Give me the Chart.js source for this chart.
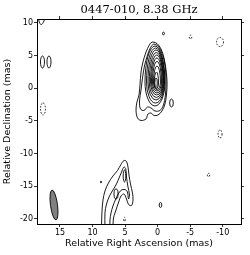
<!DOCTYPE html>
<html><head><meta charset="utf-8">
<script src="https://cdn.jsdelivr.net/npm/chart.js@4/dist/chart.umd.min.js"></script>
<style>html,body{margin:0;padding:0;background:#fff;overflow:hidden}canvas{display:block}</style>
</head><body><canvas id="c" width="250" height="255"></canvas>
<script>
// ---------- text ----------
const titleText = '0447-010, 8.38 GHz';
const xTitle = 'Relative Right Ascension (mas)';
const yTitle = 'Relative Declination (mas)';
// ---------- axes ----------
const raTicks = [15, 10, 5, 0, -5, -10];
const decTicks = [10, 5, 0, -5, -10, -15, -20];
const raRange = [-12.81, 18.53];
const decRange = [-20.77, 10.61];

// ---------- core: nested contour levels (egg shapes), mas ----------
const coreLeft   = [1.94, 1.71, 1.48, 1.28, 1.09, 0.94, 0.79, 0.63, 0.51, 0.43];
const coreRight  = [-1.13, -1.06, -0.98, -0.90, -0.83, -0.72, -0.60, -0.44, -0.14, 0.05];
const coreTop    = [6.48, 6.17, 5.87, 5.48, 5.10, 4.64, 4.11, 3.42, 2.50, 1.58];
const coreBottom = [-2.70, -2.25, -1.79, -1.40, -1.02, -0.71, -0.41, -0.18, -0.03, 0.13];
const coreMid    = [0.97, 0.97, 0.97, 0.97, 0.97, 0.97, 0.97, 0.97, 0.82, 0.82];

// ---------- lowest core contours (RA, Dec) ----------
const coreLevel1 = [[0.71,7.09],[0.09,6.86],[-0.52,6.02],[-0.98,4.64],[-1.29,2.81],[-1.45,0.97],[-1.37,-0.87],[-1.13,-2.40],[-0.67,-3.47],[-0.06,-4.08],[0.56,-4.16],[1.02,-3.78],[1.48,-3.93],[1.78,-4.69],[2.55,-4.92],[3.09,-4.54],[3.32,-3.32],[3.17,-2.09],[2.86,-1.02],[2.71,0.51],[2.55,2.50],[2.25,4.03],[1.78,5.56],[1.31,6.56],[1.02,6.97],[0.71,7.09]];
const coreLevel2 = [[0.63,6.79],[0.02,6.56],[-0.52,5.71],[-0.98,4.34],[-1.24,2.50],[-1.29,0.66],[-1.18,-1.17],[-0.90,-2.55],[-0.37,-3.39],[0.40,-3.47],[1.02,-3.01],[1.55,-2.86],[2.09,-3.39],[2.63,-3.16],[2.78,-1.94],[2.55,-0.26],[2.32,1.58],[2.02,3.42],[1.55,5.10],[1.09,6.25],[0.63,6.79]];

// ---------- jet contours (RA, Dec) ----------
const jetLevel1 = [[8.62,-21.08],[8.55,-18.93],[8.39,-17.09],[8.09,-15.72],[7.55,-14.49],[6.86,-13.42],[6.16,-12.58],[5.63,-11.66],[5.17,-11.05],[4.78,-11.20],[4.55,-12.04],[4.40,-13.27],[4.17,-14.64],[3.86,-16.02],[3.78,-17.09],[4.01,-17.94],[4.47,-17.78],[4.78,-16.94],[5.17,-16.17],[5.63,-16.48],[5.93,-17.25],[6.24,-18.16],[6.55,-19.08],[6.78,-19.85],[6.86,-21.08]];
const jetLevel2 = [[8.09,-21.08],[8.09,-19.08],[7.85,-17.71],[7.39,-16.48],[6.86,-15.56],[6.32,-14.64],[5.86,-13.57],[5.47,-12.65],[5.17,-12.04],[4.89,-12.35],[4.78,-13.57],[4.58,-14.95],[4.32,-16.33],[4.47,-16.94],[4.70,-15.72],[5.32,-15.49],[5.86,-15.87],[6.39,-16.86],[6.86,-18.01],[7.16,-19.08],[7.32,-20.15],[7.32,-21.08]];
const edgeContour = [[18.30,10.8],[18.15,10.0],[17.84,9.77],[17.53,10.15],[17.30,10.8]];

// ---------- small isolated contours: RA, Dec, half-width, half-height (mas) ----------
const posRA  = [17.69, 16.69, -0.90, -2.13, -0.44, 8.70, 5.09, 6.39];
const posDec = [4.03, 4.03, 8.39, -2.25, -17.86, -14.34, -13.42, -16.17];
const posRx  = [0.31, 0.31, 0.15, 0.28, 0.20, 0.10, 0.20, 0.31];
const posRy  = [0.92, 0.92, 0.20, 0.61, 0.38, 0.12, 0.92, 0.77];
const negRA  = [17.61, -5.05, -9.59, -9.59, -7.82, 5.09];
const negDec = [-3.16, 7.86, 7.09, -6.99, -13.27, -20.06];
const negRx  = [0.38, 0.20, 0.54, 0.31, 0.18, 0.12];
const negRy  = [0.92, 0.28, 0.69, 0.61, 0.26, 0.31];

// ---------- restoring beam ----------
const beamRA = 15.92, beamDec = -17.86, beamMaj = 4.6, beamMin = 1.08, beamPA = 7.6;

const lineSet = (pts, dashed) => ({
  data: pts.map(p => ({x: p[0], y: p[1]})),
  showLine: true, borderColor: '#000', borderWidth: 0.9, pointRadius: 0,
  tension: 0.35, fill: false, borderDash: dashed ? [1.5, 1.5] : []
});

const contourPlugin = {
  id: 'contours',
  afterDatasetsDraw(chart) {
    const {ctx, chartArea: a, scales: {x, y}} = chart;
    const px = v => x.getPixelForValue(v), py = v => y.getPixelForValue(v);
    const sx = Math.abs(px(1) - px(0)), sy = Math.abs(py(1) - py(0));
    ctx.save();
    ctx.beginPath(); ctx.rect(a.left, a.top, a.right - a.left, a.bottom - a.top); ctx.clip();
    ctx.strokeStyle = '#000'; ctx.lineWidth = 0.9;
    for (let i = 0; i < coreLeft.length; i++) {
      const xl = px(coreLeft[i]), xr = px(coreRight[i]);
      const cx = (xl + xr) / 2, rx = Math.abs(xr - xl) / 2;
      const ym = py(coreMid[i]), yt = py(coreTop[i]), yb = py(coreBottom[i]);
      ctx.beginPath();
      ctx.ellipse(cx, ym, rx, ym - yt, 0, Math.PI, 2 * Math.PI);
      ctx.ellipse(cx, ym, rx, yb - ym, 0, 0, Math.PI);
      ctx.closePath(); ctx.stroke();
    }
    ctx.setLineDash([]);
    for (let i = 0; i < posRA.length; i++) {
      ctx.beginPath();
      ctx.ellipse(px(posRA[i]), py(posDec[i]), posRx[i] * sx, posRy[i] * sy, 0, 0, 2 * Math.PI);
      ctx.stroke();
    }
    ctx.setLineDash([1.5, 1.5]);
    for (let i = 0; i < negRA.length; i++) {
      ctx.beginPath();
      ctx.ellipse(px(negRA[i]), py(negDec[i]), negRx[i] * sx, negRy[i] * sy, 0, 0, 2 * Math.PI);
      ctx.stroke();
    }
    ctx.setLineDash([]);
    ctx.beginPath();
    ctx.ellipse(px(beamRA), py(beamDec), beamMin / 2 * sx, beamMaj / 2 * sy, -beamPA * Math.PI / 180, 0, 2 * Math.PI);
    ctx.fillStyle = '#808080'; ctx.fill(); ctx.stroke();
    ctx.restore();
  }
};

const setTicks = vals => scale => { scale.ticks = vals.map(v => ({value: v})); };
const tickFont = {family: 'DejaVu Sans', size: 8};
const gridOpts = {drawOnChartArea: false, drawTicks: true, tickLength: 3, color: '#000', lineWidth: 0.8};
const borderOpts = {display: true, color: '#000', width: 1};

new Chart(document.getElementById('c'), {
  type: 'scatter',
  data: {
    datasets: [
      lineSet(coreLevel1), lineSet(coreLevel2),
      lineSet(jetLevel1), lineSet(jetLevel2),
      lineSet(edgeContour)
    ]
  },
  options: {
    responsive: false, animation: false, devicePixelRatio: 1,
    layout: {padding: 0},
    plugins: {legend: {display: false}, tooltip: {enabled: false}, title: {display: false}},
    scales: {
      x: {type: 'linear', position: 'bottom', min: raRange[0], max: raRange[1], reverse: true,
        afterBuildTicks: setTicks(raTicks), afterFit: s => { s.height = 31; },
        ticks: {font: tickFont, color: '#000', padding: 1, maxRotation: 0, autoSkip: false},
        grid: gridOpts, border: borderOpts,
        title: {display: true, text: xTitle, color: '#000', font: {family: 'DejaVu Sans', size: 9.5}, padding: {top: 0, bottom: 6}}},
      x2: {type: 'linear', axis: 'x', position: 'top', min: raRange[0], max: raRange[1], reverse: true,
        afterBuildTicks: setTicks(raTicks), afterFit: s => { s.height = 19; },
        ticks: {display: false}, grid: gridOpts, border: borderOpts,
        title: {display: true, text: titleText, color: '#000', font: {family: 'DejaVu Serif', size: 11.5}, padding: {top: 3, bottom: 0}}},
      y: {type: 'linear', position: 'left', min: decRange[0], max: decRange[1],
        afterBuildTicks: setTicks(decTicks), afterFit: s => { s.width = 37; },
        ticks: {font: tickFont, color: '#000', padding: 1, autoSkip: false},
        grid: gridOpts, border: borderOpts,
        title: {display: true, text: yTitle, color: '#000', font: {family: 'DejaVu Sans', size: 9.5}, padding: {top: 1.5, bottom: 0}}},
      y2: {type: 'linear', axis: 'y', position: 'right', min: decRange[0], max: decRange[1],
        afterBuildTicks: setTicks(decTicks), afterFit: s => { s.width = 9; },
        ticks: {display: false}, grid: gridOpts, border: borderOpts}
    }
  },
  plugins: [contourPlugin]
});
</script>
</body></html>
